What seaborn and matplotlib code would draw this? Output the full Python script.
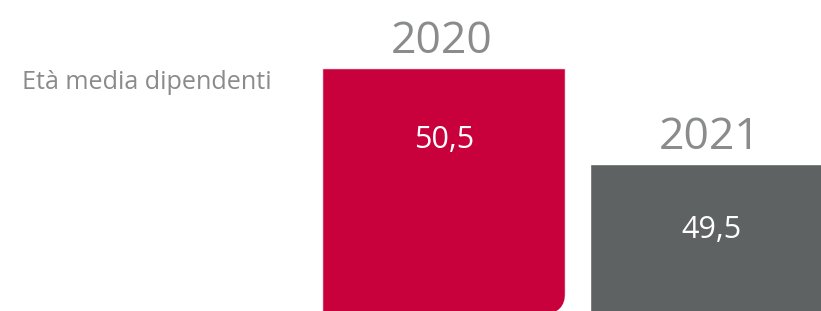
import matplotlib
matplotlib.use("Agg")
import matplotlib.pyplot as plt
import seaborn as sns
import pandas as pd
from matplotlib.path import Path
from matplotlib.transforms import IdentityTransform

years = ["2020", "2021"]
values = [50.5, 49.5]
value_labels = ["50,5", "49,5"]
title = "Età media dipendenti"
colors = ["#C8003C", "#5E6262"]

sns.set_theme(style="white")
plt.rcParams['font.family'] = ['Open Sans', 'DejaVu Sans']

fig = plt.figure(figsize=(8.21, 3.11), dpi=100)
ax = fig.add_axes([0, 0, 1, 1])
df = pd.DataFrame({"year": years, "value": values})
sns.barplot(data=df, x="year", y="value", hue="year", palette=colors,
            width=0.907, legend=False, ax=ax, saturation=1)
ax.set_xlim(-1.656, 1.408)
ax.set_ylim(47.97, 51.21)
ax.axis("off")

label_offsets = [-57.6, -53.3]  # points below bar top (baseline)
for i, p in enumerate(ax.patches):
    cx = p.get_x() + p.get_width() / 2
    top = p.get_height()
    ax.annotate(years[i], (cx, top), xytext=(-1.5, 11), textcoords="offset points",
                ha="center", va="baseline", fontsize=32, color="#8A8C8C")
    ax.annotate(value_labels[i], (cx, top), xytext=(0, label_offsets[i]),
                textcoords="offset points",
                ha="center", va="baseline", fontsize=22, color="white")

fig.text(22 / 821, 1 - 89 / 311, title, ha="left", va="baseline",
         fontsize=18.1, color="#8A8C8C")

# rounded bottom-right corner on the first bar
fig.canvas.draw()
renderer = fig.canvas.get_renderer()
bb = ax.patches[0].get_window_extent(renderer)
r = 22
x0, x1, y1 = bb.x0, bb.x1, bb.y1
yb = -3
verts = [(x0, y1), (x1, y1), (x1, yb + r), (x1, yb), (x1 - r, yb), (x0, yb), (x0, y1)]
codes = [Path.MOVETO, Path.LINETO, Path.LINETO, Path.CURVE3, Path.CURVE3, Path.LINETO, Path.CLOSEPOLY]
ax.patches[0].set_clip_path(Path(verts, codes), IdentityTransform())

fig.savefig("out.png", dpi=100)
